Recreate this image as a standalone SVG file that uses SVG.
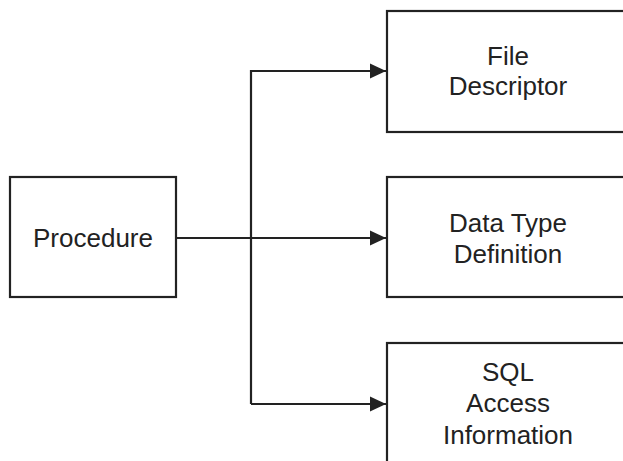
<svg xmlns="http://www.w3.org/2000/svg" width="623" height="461" viewBox="0 0 623 461">
<style>
.box{fill:#fff;stroke:#222;stroke-width:2.2}
.lbl{font-family:"Liberation Sans",Arial,sans-serif;font-size:26px;fill:#222;text-anchor:middle}
.con{fill:none;stroke:#222;stroke-width:2.2}
</style>
<defs>
<marker id="ah" markerUnits="userSpaceOnUse" markerWidth="17" markerHeight="16" refX="16" refY="8" orient="auto">
<path d="M0,0.5 L16,8 L0,15.5 Z" fill="#222"/>
</marker>
</defs>
<rect width="623" height="461" fill="#fff"/>
<g id="connectors">
<path class="con" d="M176,238 L386,238" marker-end="url(#ah)"/>
<path class="con" d="M251,404 L251,71 L386,71" marker-end="url(#ah)"/>
<path class="con" d="M251,404 L386,404" marker-end="url(#ah)"/>
</g>
<g id="procedure">
<rect class="box" x="10" y="177" width="166" height="120"/>
<text class="lbl" x="93" y="247">Procedure</text>
</g>
<g id="file-descriptor">
<rect class="box" x="387" y="11" width="245" height="121"/>
<text class="lbl" x="508" y="65">File</text>
<text class="lbl" x="508" y="95">Descriptor</text>
</g>
<g id="data-type-definition">
<rect class="box" x="387" y="177" width="245" height="120"/>
<text class="lbl" x="508" y="232">Data Type</text>
<text class="lbl" x="508" y="263">Definition</text>
</g>
<g id="sql-access-information">
<rect class="box" x="387" y="343" width="245" height="130"/>
<text class="lbl" x="508" y="381">SQL</text>
<text class="lbl" x="508" y="412">Access</text>
<text class="lbl" x="508" y="444">Information</text>
</g>
</svg>
